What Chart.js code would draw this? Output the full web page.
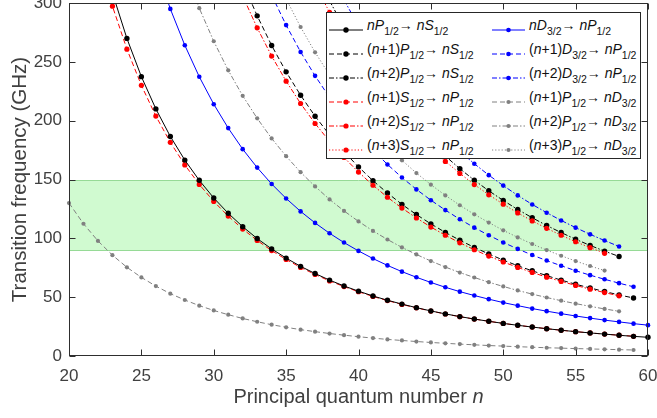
<!DOCTYPE html>
<html><head><meta charset="utf-8">
<script src="https://cdn.jsdelivr.net/npm/chart.js@4.4.1/dist/chart.umd.min.js"></script>
<style>
html,body{margin:0;padding:0;background:#fff;}
#wrap{position:relative;width:657px;height:418px;overflow:hidden;}
#c{position:absolute;left:0;top:0;}
.f{font-family:"Liberation Sans",Arial,Helvetica,sans-serif;}
#xt{position:absolute;left:0;width:717px;top:386px;text-align:center;font-size:20px;line-height:20px;color:#404040;white-space:nowrap;}
#lg{position:absolute;left:326px;top:12px;width:315px;height:147px;box-sizing:border-box;border:1px solid #262626;background:#fff;}
.it{position:absolute;font-size:14px;line-height:14px;color:#111;white-space:nowrap;}
.it sub{font-size:10.5px;vertical-align:-5px;line-height:0;}
.sw{position:absolute;}
</style></head>
<body>
<div id="wrap" class="f">
<canvas id="c" width="657" height="418"></canvas>
<div id="xt">Principal quantum number <i>n</i></div>
<div id="lg"></div>
</div>
<script>
// ---- data (transition frequencies in GHz, x = principal quantum number n) ----
const X_TICKS = [20, 25, 30, 35, 40, 45, 50, 55, 60];
const Y_TICKS = [0, 50, 100, 150, 200, 250, 300];
const BAND = [90, 150];
// first n of each series
const N_START = [23, 32, 38, 22, 32, 37, 26, 34, 39, 20, 28, 35];

const nP_nS   = [308.6,269.9,237.4,210.0,186.6,166.5,149.3,134.3,121.3,109.9,99.8,91.0,83.2,76.2,70.1,64.5,59.5,55.1,51.0,47.4,44.1,41.1,38.3,35.8,33.5,31.4,29.5,27.7,26.1,24.6,23.2,21.9,20.7,19.6,18.6,17.6,16.7,15.9];
const n1P_nS  = [317.6,289.1,263.9,241.5,221.6,203.8,187.9,173.6,160.7,149.0,138.5,128.9,120.2,112.3,105.0,98.4,92.3,86.7,81.5,76.7,72.4,68.3,64.5,61.0,57.8,54.8,51.9,49.3];
const n2P_nS  = [301.9,279.2,258.7,240.2,223.4,208.1,194.2,181.5,169.9,159.2,149.4,140.4,132.2,124.5,117.5,110.9,104.9,99.2,94.0,89.1,84.6];
const n1S_nP  = [341.0,297.3,260.8,230.0,203.9,181.6,162.4,145.8,131.4,118.9,107.9,98.2,89.6,82.0,75.3,69.3,63.8,59.0,54.6,50.6,47.1,43.8,40.9,38.2,35.7,33.4,31.4,29.5,27.7,26.1,24.6,23.2,21.9,20.7,19.6,18.6,17.7,16.8];
const n2S_nP  = [305.9,278.9,254.9,233.6,214.6,197.6,182.4,168.7,156.3,145.1,134.9,125.7,117.3,109.6,102.6,96.2,90.3,84.9,79.9,75.3,71.0,67.0,63.4,60.0,56.8,53.9,51.1];
const n3S_nP  = [316.1,292.0,270.3,250.7,233.0,216.8,202.2,188.8,176.6,165.4,155.2,145.7,137.0,129.0,121.6,114.8,108.5,102.6,97.1,92.1,87.3];
const nD_nP   = [331.1,295.0,264.1,237.3,214.0,193.7,175.8,160.1,146.2,133.9,122.9,113.1,104.3,96.4,89.3,82.8,77.0,71.7,66.9,62.5,58.4,54.7,51.4,48.3,45.4,42.8,40.3,38.1,36.0,34.0,32.2,30.5,29.0,27.5,26.2];
const n1D_nP  = [306.7,281.2,258.4,238.1,219.8,203.3,188.4,175.0,162.8,151.7,141.6,132.4,124.0,116.2,109.1,102.6,96.5,91.0,85.8,81.1,76.7,72.5,68.7,65.2,61.9,58.8];
const n2D_nP  = [302.5,280.6,260.8,242.8,226.3,211.6,197.9,185.4,174.0,163.4,153.7,144.8,136.5,128.8,121.8,115.2,109.1,103.4,98.1,93.1];
const n1P_nD  = [130.0,112.4,97.8,85.7,75.4,66.8,59.4,53.0,47.6,42.8,38.7,35.1,31.9,29.1,26.6,24.4,22.4,20.7,19.1,17.7,16.4,15.2,14.1,13.2,12.3,11.5,10.8,10.1,9.5,8.9,8.4,7.9,7.5,7.0,6.7,6.3,6.0,5.7,5.4,5.1];
const n2P_nD  = [327.7,295.6,267.5,242.8,221.1,202.0,184.9,169.8,156.2,144.1,133.1,123.3,114.4,106.3,99.0,92.3,86.3,80.7,75.6,70.9,66.7,62.7,59.1,55.7,52.6,49.7,47.0,44.5,42.2,40.0,38.0];
const n3P_nD  = [303.5,279.6,258.1,238.8,221.3,205.5,191.2,178.2,166.3,155.5,145.6,136.5,128.1,120.4,113.4,106.8,100.8,95.2,90.0,85.2,80.7,76.5,72.6];

const LABELS = [
 '<i>nP</i><sub>1/2</sub>&rarr; <i>nS</i><sub>1/2</sub>',
 '(<i>n</i>+1)<i>P</i><sub>1/2</sub>&rarr; <i>nS</i><sub>1/2</sub>',
 '(<i>n</i>+2)<i>P</i><sub>1/2</sub>&rarr; <i>nS</i><sub>1/2</sub>',
 '(<i>n</i>+1)<i>S</i><sub>1/2</sub>&rarr; <i>nP</i><sub>1/2</sub>',
 '(<i>n</i>+2)<i>S</i><sub>1/2</sub>&rarr; <i>nP</i><sub>1/2</sub>',
 '(<i>n</i>+3)<i>S</i><sub>1/2</sub>&rarr; <i>nP</i><sub>1/2</sub>',
 '<i>nD</i><sub>3/2</sub>&rarr; <i>nP</i><sub>1/2</sub>',
 '(<i>n</i>+1)<i>D</i><sub>3/2</sub>&rarr; <i>nP</i><sub>1/2</sub>',
 '(<i>n</i>+2)<i>D</i><sub>3/2</sub>&rarr; <i>nP</i><sub>1/2</sub>',
 '(<i>n</i>+1)<i>P</i><sub>1/2</sub>&rarr; <i>nD</i><sub>3/2</sub>',
 '(<i>n</i>+2)<i>P</i><sub>1/2</sub>&rarr; <i>nD</i><sub>3/2</sub>',
 '(<i>n</i>+3)<i>P</i><sub>1/2</sub>&rarr; <i>nD</i><sub>3/2</sub>'
];

// ---- styles ----
const FONT = '"Liberation Sans", Arial, Helvetica, sans-serif';
const BLACK='#000000', RED='#ff0000', BLUE='#0000ff', GRAY='#808080';
const SOLID=[], DASH=[5,3], DASHDOT=[5,2,1.5,2], DOT=[1.2,2];
const VALUES = [nP_nS,n1P_nS,n2P_nS,n1S_nP,n2S_nP,n3S_nP,nD_nP,n1D_nP,n2D_nP,n1P_nD,n2P_nD,n3P_nD];
const STYLE = [
 [BLACK,SOLID,2.7],[BLACK,DASH,2.7],[BLACK,DASHDOT,2.7],
 [RED,DASH,2.6],[RED,DASHDOT,2.6],[RED,DOT,2.6],
 [BLUE,SOLID,2.3],[BLUE,DASH,2.3],[BLUE,DASHDOT,2.3],
 [GRAY,DASH,2.1],[GRAY,DASHDOT,2.1],[GRAY,DOT,2.1]
];
// drawing sequence, bottom to top
const DRAW_SEQ = [3, 0, 1, 4, 2, 5, 6, 7, 8, 9, 10, 11];

const datasets = VALUES.map((vals,i)=>({
  label: LABELS[i].replace(/<[^>]+>/g,''),
  data: vals.map((v,k)=>({x:N_START[i]+k, y:v})),
  borderColor: STYLE[i][0], backgroundColor: STYLE[i][0],
  pointBackgroundColor: STYLE[i][0], pointBorderWidth:0,
  pointRadius: STYLE[i][2], pointHoverRadius: STYLE[i][2],
  borderWidth: 1, borderDash: STYLE[i][1], tension: 0, fill:false,
  order: 100 - DRAW_SEQ.indexOf(i),
  clip: {left:6, right:6, top:0, bottom:6}
}));

const frame = {
  id:'frame',
  beforeDatasetsDraw(chart){
    const {ctx, scales:{x,y}} = chart;
    const x0=x.getPixelForValue(X_TICKS[0]), x1=x.getPixelForValue(X_TICKS[X_TICKS.length-1]);
    const yt=Math.round(y.getPixelForValue(BAND[1]))+0.5, yb=Math.round(y.getPixelForValue(BAND[0]))+0.5;
    ctx.save();
    ctx.fillStyle='rgb(208,250,208)';
    ctx.fillRect(x0, yt, x1-x0, yb-yt);
    ctx.strokeStyle='rgb(150,218,150)'; ctx.lineWidth=1;
    ctx.beginPath(); ctx.moveTo(x0,yt); ctx.lineTo(x1,yt); ctx.moveTo(x0,yb); ctx.lineTo(x1,yb); ctx.stroke();
    ctx.restore();
  },
  afterDatasetsDraw(chart){
    const {ctx, chartArea:a, scales:{x,y}} = chart;
    const L=Math.round(a.left)+0.5, R=Math.round(a.right)-0.5, T=Math.round(a.top)+0.5, B=Math.round(a.bottom)-0.5;
    ctx.save();
    ctx.strokeStyle='#2e2e2e'; ctx.lineWidth=1;
    ctx.strokeRect(L,T,R-L,B-T);
    ctx.beginPath();
    const tl=6;
    X_TICKS.forEach(v=>{const p=Math.round(x.getPixelForValue(v))+0.5; ctx.moveTo(p,B); ctx.lineTo(p,B-tl); ctx.moveTo(p,T); ctx.lineTo(p,T+tl);});
    Y_TICKS.forEach(v=>{const p=Math.round(y.getPixelForValue(v))+0.5; ctx.moveTo(L,p); ctx.lineTo(L+tl,p); ctx.moveTo(R,p); ctx.lineTo(R-tl,p);});
    ctx.stroke();
    ctx.restore();
  }
};

new Chart(document.getElementById('c'), {
  type:'line',
  data:{datasets},
  options:{
    responsive:false, animation:false, devicePixelRatio:1, events:[],
    layout:{padding:{top:3,right:9,left:0,bottom:0}},
    plugins:{legend:{display:false}, tooltip:{enabled:false}},
    scales:{
      x:{type:'linear', min:20, max:60,
         grid:{display:false, drawTicks:false}, border:{display:false},
         afterBuildTicks(s){ s.ticks = X_TICKS.map(v=>({value:v})); },
         ticks:{font:{family:FONT,size:17}, color:'#404040', padding:10, maxRotation:0, autoSkip:false},
         afterFit(s){ s.height=62; s.paddingLeft=0; s.paddingRight=0; }},
      y:{type:'linear', min:0, max:300,
         grid:{display:false, drawTicks:false}, border:{display:false},
         afterBuildTicks(s){ s.ticks = Y_TICKS.map(v=>({value:v})); },
         ticks:{font:{family:FONT,size:17}, color:'#404040', padding:7},
         title:{display:true, text:'Transition frequency (GHz)', font:{family:FONT,size:20.5}, color:'#404040', padding:{top:8,bottom:0}},
         afterFit(s){ s.width=69; s.paddingTop=0; s.paddingBottom=0; }}
    }
  },
  plugins:[frame]
});

// ---- HTML legend (for italic letters and subscripts) ----
const lg = document.getElementById('lg');
function sample(color, dash, r, w){
  const da = dash.length ? ` stroke-dasharray="${dash.join(' ')}"` : '';
  return `<svg width="${w}" height="10" viewBox="0 0 ${w} 10"><line x1="0" y1="5" x2="${w}" y2="5" stroke="${color}" stroke-width="1"${da}/><circle cx="${w/2}" cy="5" r="${r}" fill="${color}"/></svg>`;
}
LABELS.forEach((lab,i)=>{
  const col = i<6 ? 0 : 1, row = i%6;
  const ly = 12.5 + 24.05*row;
  const sx = col ? 165 : 2, tx = col ? 202 : 40, w = col ? 33 : 34;
  const s = document.createElement('div'); s.className='sw';
  s.style.left=sx+'px'; s.style.top=(ly-5)+'px';
  s.innerHTML = sample(STYLE[i][0], STYLE[i][1], STYLE[i][2], w);
  lg.appendChild(s);
  const t = document.createElement('div'); t.className='it';
  t.style.left=tx+'px'; t.style.top=(ly-7.6)+'px';
  t.innerHTML = lab;
  lg.appendChild(t);
});
</script>
</body></html>
